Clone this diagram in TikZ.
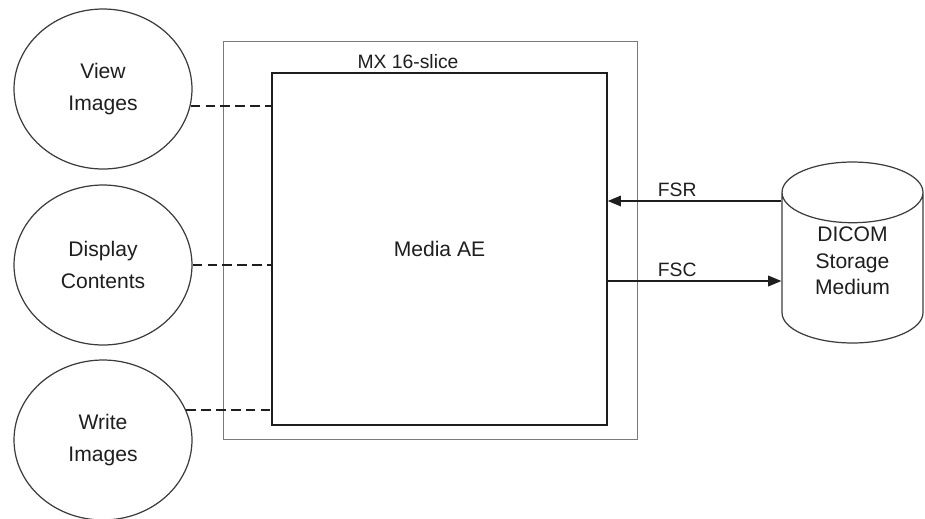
\documentclass[tikz,border=0pt]{standalone}
\usepackage{fontspec}
\setmainfont{Liberation Sans}
\usepackage{tikz}
\usetikzlibrary{arrows.meta,shapes.geometric}
\definecolor{ink}{HTML}{1E1E1E}
\definecolor{rim}{HTML}{3C3C3C}
\definecolor{frame}{HTML}{7A7A7A}
\tikzset{
  usecase/.style={ellipse, draw=rim, line width=0.7pt, minimum width=3.56cm, minimum height=3.2cm,
    align=center, text=ink, font=\fontsize{12}{18}\selectfont},
  aebox/.style={draw=ink, line width=0.9pt, minimum width=6.7cm, minimum height=7.04cm,
    text=ink, font=\fontsize{12}{15}\selectfont},
  sysbox/.style={draw=frame, line width=0.6pt, minimum width=8.3cm, minimum height=7.98cm},
  store/.style={cylinder, shape border rotate=90, aspect=0.7, draw=rim, line width=0.7pt,
    minimum width=2.82cm, minimum height=3.62cm, text=ink,
    font=\fontsize{12}{15}\selectfont},
  link/.style={draw=ink, line width=0.9pt, dash pattern=on 5.5pt off 3pt},
  flow/.style={draw=ink, line width=0.9pt, -{Triangle[length=7.5pt,width=6pt]}},
  lab/.style={text=ink, font=\fontsize{11}{13}\selectfont},
}
\begin{document}
\begin{tikzpicture}[x=0.02cm, y=-0.02cm]
  \useasboundingbox (0,0) rectangle (925,518);
  % system frame and application entity
  \node[sysbox] (mx) at (430.5,240.5) {};
  \node[lab] (mxlab) at (408,62) {MX 16-slice};
  \node[aebox] (media) at (439.5,249) {Media AE};
  % real-world activities
  \node[usecase] (view) at (103,89) {View\\Images};
  \node[usecase] (display) at (103,265) {Display\\Contents};
  \node[usecase] (write) at (103,440) {Write\\Images};
  \draw[link] (view.-11) -- (view.-11 -| media.west);
  \draw[link] (display.east) -- (display.east -| media.west);
  \draw[link] (write.20) -- (write.20 -| media.west);
  % storage medium
  \node[store, anchor=shape center] (dicom) at (852.5,252.5)
    {\raisebox{0.12cm}[0pt][0pt]{\begin{tabular}{@{}c@{}}DICOM\\Storage\\Medium\end{tabular}}};
  \coordinate (fsry) at (0,201);
  \coordinate (fscy) at (0,281);
  \draw[flow] (dicom.west |- fsry) -- (media.east |- fsry)
    node[lab, pos=0.6, above, inner sep=2pt] (fsr) {FSR};
  \draw[flow] (media.east |- fscy) -- (dicom.west |- fscy)
    node[lab, pos=0.4, above, inner sep=2pt] (fsc) {FSC};
\end{tikzpicture}
\end{document}
